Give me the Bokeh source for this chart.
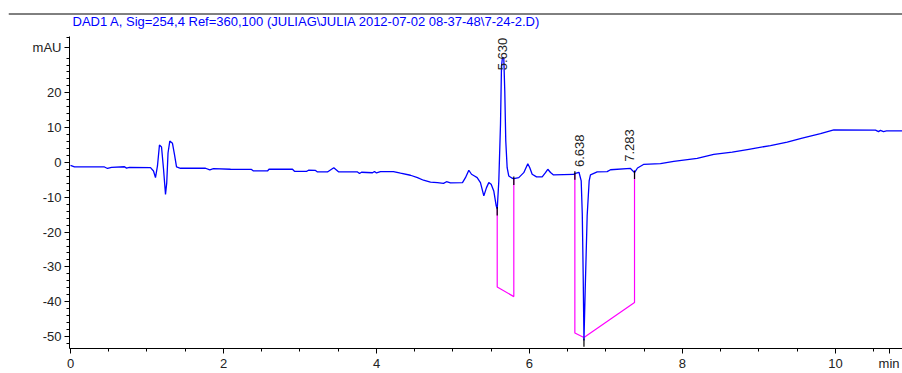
import numpy as np
from bokeh.plotting import figure
from bokeh.layouts import column
from bokeh.models import FixedTicker, Label, Span, Range1d
from bokeh.embed import file_html
from bokeh.resources import INLINE
from bokeh.core.properties import value

# ---- data (retention time in min, signal in mAU) ----
time_min = [0.000, 0.052, 0.444, 0.484, 0.536, 0.706, 0.732, 0.771, 1.046, 1.085,
            1.111, 1.137, 1.163, 1.190, 1.216, 1.242, 1.258, 1.275, 1.298, 1.333,
            1.359, 1.386, 1.438, 1.765, 1.821, 1.869, 2.092, 2.366, 2.392, 2.575,
            2.595, 2.902, 2.928, 3.085, 3.111, 3.203, 3.229, 3.359, 3.442, 3.503,
            3.752, 3.778, 3.804, 3.948, 3.974, 4.000, 4.052, 4.222, 4.314, 4.444,
            4.536, 4.614, 4.706, 4.797, 4.876, 4.915, 4.967, 5.124, 5.163, 5.207,
            5.242, 5.281, 5.316, 5.359, 5.403, 5.438, 5.468, 5.499, 5.533, 5.565,
            5.578, 5.599, 5.621, 5.634, 5.647, 5.664, 5.677, 5.690, 5.708, 5.729,
            5.774, 5.795, 5.860, 5.925, 5.978, 6.004, 6.035, 6.092, 6.166, 6.209,
            6.239, 6.275, 6.314, 6.575, 6.601, 6.647, 6.676, 6.690, 6.702, 6.712,
            6.728, 6.754, 6.780, 6.797, 6.885, 7.015, 7.059, 7.320, 7.373, 7.412,
            7.490, 7.712, 7.886, 8.192, 8.409, 8.650, 8.867, 9.150, 9.369, 9.565,
            9.804, 9.978, 10.523, 10.562, 10.588, 10.627, 10.667, 10.876]
signal_mau = [-0.86, -1.29, -1.29, -1.72, -1.38, -1.23, -1.63, -1.38, -1.49, -2.44,
              -4.36, -1.00, 5.01, 4.44, -1.86, -9.17, -5.87, 2.72, 6.16, 5.50,
              2.35, -1.29, -1.66, -1.66, -2.15, -1.78, -1.95, -2.00, -2.44, -2.44,
              -1.95, -1.95, -2.52, -2.58, -2.23, -2.29, -2.72, -2.72, -1.52, -2.66,
              -2.72, -3.15, -2.81, -2.95, -2.58, -3.00, -2.64, -2.64, -3.09, -3.67,
              -4.36, -5.10, -5.67, -5.79, -6.02, -5.53, -5.87, -5.79, -4.36, -2.23,
              -3.38, -3.87, -4.36, -5.79, -9.60, -7.22, -5.79, -6.25, -8.17, -12.46,
              -13.41, -5.30, 10.95, 27.65, 30.23, 30.03, 20.49, 6.16, -1.49, -3.87,
              -4.53, -4.64, -4.36, -2.92, -0.34, -1.49, -3.38, -4.15, -4.15, -2.92,
              -1.95, -2.87, -3.58, -3.44, -3.15, -2.81, -5.30, -14.76, -32.52, -51.15,
              -36.82, -15.33, -5.30, -3.58, -2.72, -2.64, -2.09, -1.72, -2.92, -1.58,
              -0.57, -0.34, 0.34, 1.20, 2.35, 2.95, 3.78, 4.87, 5.87, 7.02,
              8.31, 9.37, 9.31, 8.88, 9.23, 8.88, 9.08, 9.08]

# integration baselines (magenta)
base1_t = [5.578, 5.578, 5.795, 5.795]
base1_v = [-13.41, -35.76, -38.54, -4.64]
base2_t = [6.593, 6.593, 6.712, 7.373, 7.373]
base2_v = [-3.15, -49.00, -50.29, -40.20, -2.92]

# integration event marks
event_t = [5.578, 5.795, 6.593, 6.712, 7.373]
event_v = [-13.41, -4.64, -3.15, -51.15, -2.92]

# peak retention time labels
peak_rt = [5.630, 6.638, 7.283]
peak_label = ["5.630", "6.638", "7.283"]
peak_label_v = [26.5, -1.3, 0.2]

x_major = [0, 2, 4, 6, 8, 10]
x_unit_pos = 10.70
x_minor = [i * 0.5 for i in range(22)]
y_major = [-50, -40, -30, -20, -10, 0, 10, 20]
y_unit_pos = 33
y_minor = [v for v in range(-52, 37, 2) if v not in (32, 34)]

title_text = "DAD1 A, Sig=254,4 Ref=360,100 (JULIAG\\JULIA 2012-07-02 08-37-48\\7-24-2.D)"

FONT = "Liberation Sans"

# ---- header: rule line + title ----
head = figure(width=902, height=30, output_backend="svg", toolbar_location=None,
              x_range=Range1d(0, 894), y_range=Range1d(0, 30),
              x_axis_type=None, y_axis_type=None,
              min_border_left=8, min_border_right=0, min_border_top=0, min_border_bottom=0)
head.outline_line_color = None
head.grid.visible = False
head.add_layout(Span(location=16.5, dimension="width", line_color="black", line_width=1))
head.add_layout(Label(x=64, y=9, text=title_text, text_align="left", text_baseline="middle",
                      text_font=FONT, text_font_size="13px", text_color="#0000ff"))

# ---- chromatogram ----
p = figure(width=902, height=343, output_backend="svg", toolbar_location=None,
           x_range=Range1d(-0.013, 10.876), y_range=Range1d(-53.45, 36.2),
           min_border_left=69, min_border_right=0, min_border_top=6, min_border_bottom=21)
p.outline_line_color = None
p.grid.visible = False
p.background_fill_color = "white"
p.border_fill_color = "white"

for fig in (head, p):
    try:
        fig.frame_align = False
    except Exception:
        pass

p.xaxis[0].ticker = FixedTicker(ticks=x_major + [x_unit_pos], minor_ticks=x_minor)
p.yaxis[0].ticker = FixedTicker(ticks=y_major + [y_unit_pos], minor_ticks=y_minor)
x_over = {v: str(v) for v in x_major}
x_over[x_unit_pos] = "min"
p.xaxis[0].major_label_overrides = x_over
y_over = {v: str(v) for v in y_major}
y_over[y_unit_pos] = "mAU"
p.yaxis[0].major_label_overrides = y_over
for ax in (p.xaxis[0], p.yaxis[0]):
    ax.axis_line_color = "black"
    ax.axis_line_width = 1
    ax.major_tick_line_color = "black"
    ax.minor_tick_line_color = "black"
    ax.major_tick_in = 0
    ax.major_tick_out = 5
    ax.minor_tick_in = 0
    ax.minor_tick_out = 3
    ax.major_label_text_font = FONT
    ax.major_label_text_font_size = "13px"
    ax.major_label_text_color = "#222222"
p.xaxis[0].major_label_standoff = 2
p.yaxis[0].major_label_standoff = 3

# baselines, then trace on top
p.line(base1_t, base1_v, line_color="#ff00ff", line_width=1.2)
p.line(base2_t, base2_v, line_color="#ff00ff", line_width=1.2)
p.line(time_min, signal_mau, line_color="#0000ff", line_width=1.3)

ev_top = [v + 0.6 for v in event_v]
ev_bot = [v - 1.8 for v in event_v]
p.segment(x0=event_t, y0=ev_top, x1=event_t, y1=ev_bot, line_color="black", line_width=1.2)

p.text(x=peak_rt, y=peak_label_v, text=peak_label, angle=np.pi / 2,
       text_align="left", text_baseline="middle", x_offset=1.5,
       text_font=value(FONT), text_font_size="13px", text_color="#222222")

layout = column(head, p, spacing=0)
open("out.html", "w").write(file_html(layout, INLINE))
